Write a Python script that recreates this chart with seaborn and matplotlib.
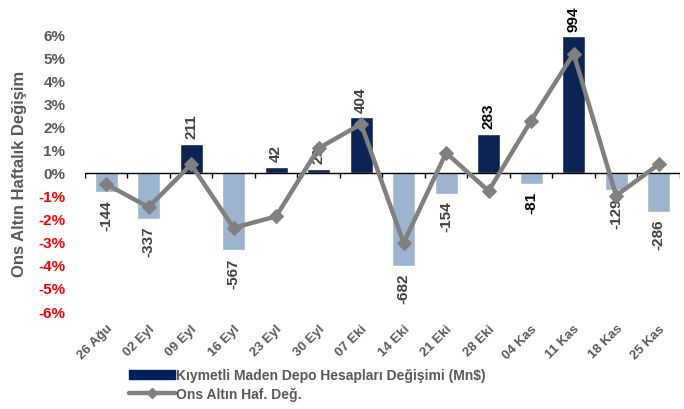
import numpy as np
import pandas as pd
import matplotlib
matplotlib.use('Agg')
import matplotlib.pyplot as plt
from matplotlib.lines import Line2D
from matplotlib.patches import Patch
import seaborn as sns

# weekly data
weeks = ['26 Ağu', '02 Eyl', '09 Eyl', '16 Eyl', '23 Eyl', '30 Eyl', '07 Eki',
         '14 Eki', '21 Eki', '28 Eki', '04 Kas', '11 Kas', '18 Kas', '25 Kas']
deposit_change = [-144, -337, 211, -567, 42, 29, 404, -682, -154, 283, -81, 994, -129, -286]
gold_weekly = [-0.5, -1.5, 0.35, -2.4, -1.9, 1.05, 2.1, -3.05, 0.85, -0.8, 2.25, 5.15, -1.0, 0.35]
black_labels = ['283', '-81', '994']

bar_name = 'Kıymetli Maden Depo Hesapları Değişimi (Mn$)'
line_name = 'Ons Altın Haf. Değ.'

NAVY = '#002060'
LIGHT = '#95B3D7'
GRAY = '#808080'
TEXT = '#595959'

sns.set_theme(style='white')
plt.rcParams['font.family'] = ['Liberation Sans', 'DejaVu Sans']

df = pd.DataFrame({'week': weeks, 'flow': deposit_change, 'gold': gold_weekly})
df['pos'] = np.arange(len(df))
df['sign'] = np.where(df['flow'] > 0, 'pos', 'neg')

fig = plt.figure(figsize=(6.84, 4.10), dpi=100)
ax = fig.add_axes([0.124, 0.239, 0.87, 0.6756])
ax2 = ax.twinx()

# bars on the hidden secondary axis
sns.barplot(data=df, x='pos', y='flow', hue='sign', palette={'pos': NAVY, 'neg': LIGHT},
            width=0.54, dodge=False, legend=False, ax=ax2, native_scale=True)
ax2.set_ylim(-1010, 1010)
ax2.set_yticks([])
ax2.set_ylabel('')
for i, v in enumerate(deposit_change):
    col = 'black' if str(v) in black_labels else '#404040'
    ax2.annotate(str(v), (i, v), xytext=(0, 4 if v > 0 else -5), textcoords='offset points',
                 rotation=90, ha='center', va='bottom' if v > 0 else 'top',
                 fontsize=11, fontweight='bold', color=col)

# line on the primary (percent) axis, drawn above bars
ax.set_zorder(ax2.get_zorder() + 1)
ax.patch.set_visible(False)
sns.lineplot(data=df, x='pos', y='gold', color=GRAY, linewidth=3.2, marker='D',
             markersize=7, markeredgecolor=GRAY, ax=ax)
ax.set_ylim(-6, 6)
ax.set_xlim(-0.5, len(weeks) - 0.5)
ax.set_yticks(range(-6, 7))
ax.set_yticklabels([f'{t}%' for t in range(-6, 7)])
for lab, t in zip(ax.get_yticklabels(), range(-6, 7)):
    lab.set_color('red' if t < 0 else TEXT)
    lab.set_fontweight('bold')
    lab.set_fontsize(11)
ax.tick_params(axis='y', length=0, pad=14)
ax.set_xticks(df['pos'])
ax.set_xticklabels(weeks, rotation=45, ha='right', rotation_mode='anchor',
                   fontsize=9.5, fontweight='bold', color=TEXT)
ax.tick_params(axis='x', length=0, pad=8)
ax.set_xlabel('')
ax.set_ylabel('Ons Altın Haftalık Değişim', fontsize=12, fontweight='bold', color=TEXT, labelpad=8)
for s in ax.spines.values():
    s.set_visible(False)
for s in ax2.spines.values():
    s.set_visible(False)

# zero axis with category boundary ticks
ax.axhline(0, color='black', lw=1, zorder=1)
bounds = np.arange(len(weeks) + 1) - 0.5
ax.vlines(bounds, -0.22, 0, color='black', lw=1, zorder=1)

handles = [Patch(facecolor=NAVY, edgecolor=NAVY),
           Line2D([], [], color=GRAY, lw=3.2, marker='D', markersize=5)]
fig.legend(handles, [bar_name, line_name], loc='lower left', bbox_to_anchor=(0.17, -0.01),
           frameon=False, handlelength=3.3, handletextpad=0.1, labelspacing=0.3,
           prop={'size': 10, 'weight': 'bold'}, labelcolor=TEXT)

fig.savefig('out.png', dpi=100)
